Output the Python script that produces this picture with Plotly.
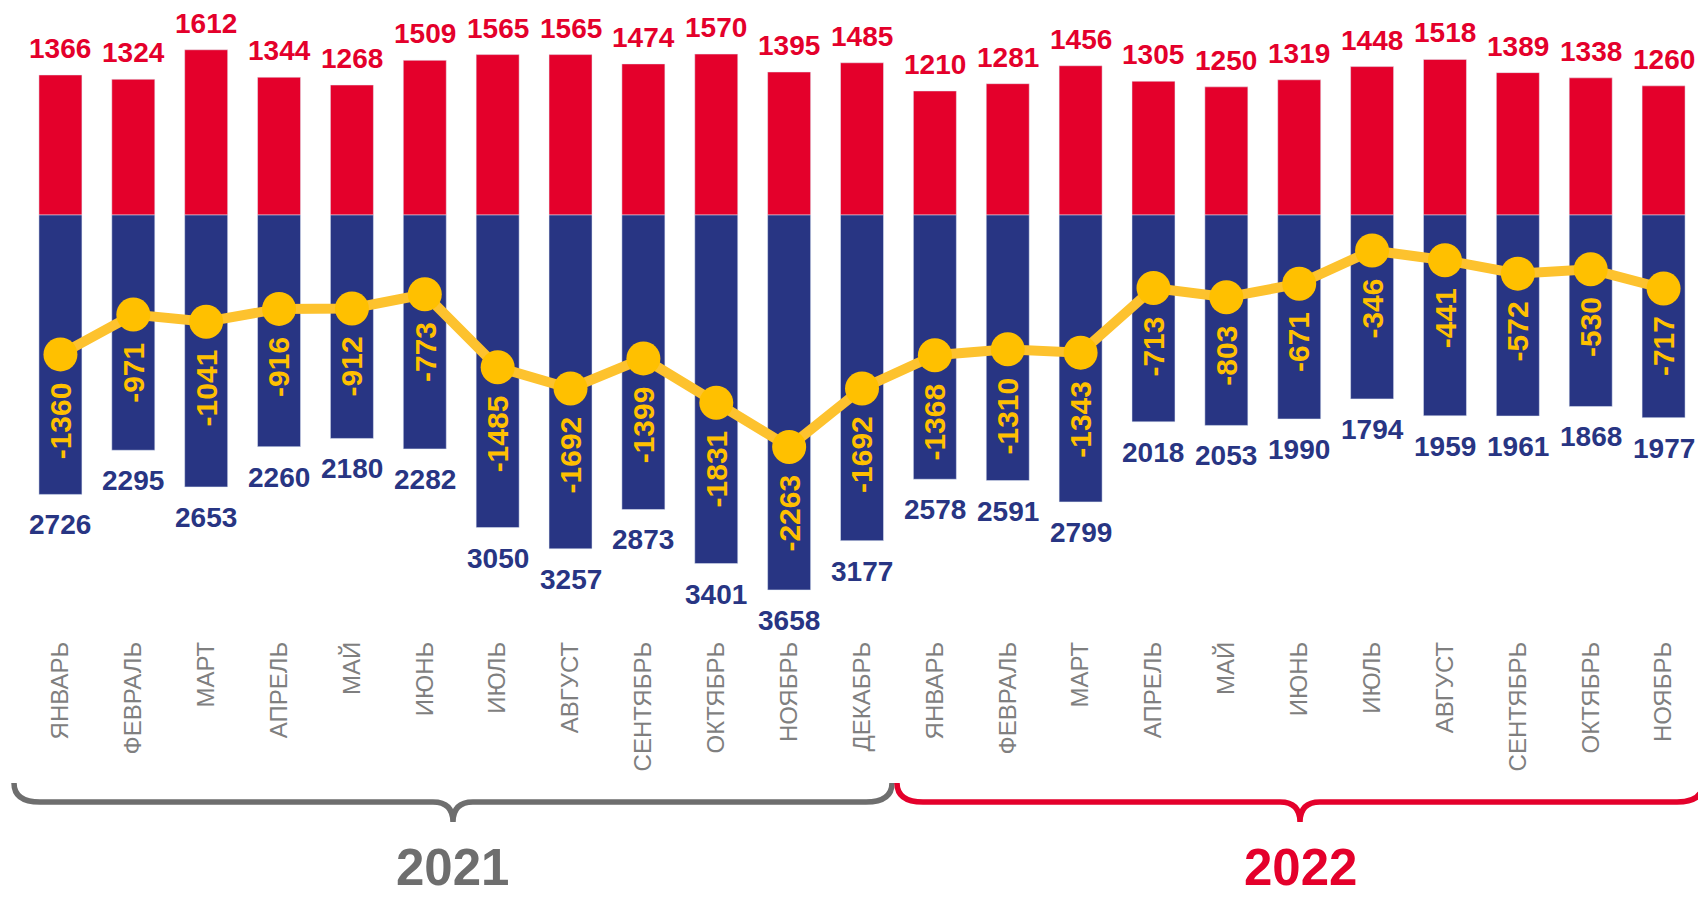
import plotly.graph_objects as go

# --- data -------------------------------------------------------------
months = [
    "ЯНВАРЬ", "ФЕВРАЛЬ", "МАРТ", "АПРЕЛЬ", "МАЙ", "ИЮНЬ", "ИЮЛЬ", "АВГУСТ",
    "СЕНТЯБРЬ", "ОКТЯБРЬ", "НОЯБРЬ", "ДЕКАБРЬ",
    "ЯНВАРЬ", "ФЕВРАЛЬ", "МАРТ", "АПРЕЛЬ", "МАЙ", "ИЮНЬ", "ИЮЛЬ", "АВГУСТ",
    "СЕНТЯБРЬ", "ОКТЯБРЬ", "НОЯБРЬ",
]
births = [1366, 1324, 1612, 1344, 1268, 1509, 1565, 1565, 1474, 1570, 1395, 1485,
          1210, 1281, 1456, 1305, 1250, 1319, 1448, 1518, 1389, 1338, 1260]
deaths = [2726, 2295, 2653, 2260, 2180, 2282, 3050, 3257, 2873, 3401, 3658, 3177,
          2578, 2591, 2799, 2018, 2053, 1990, 1794, 1959, 1961, 1868, 1977]
natural_change = [-1360, -971, -1041, -916, -912, -773, -1485, -1692, -1399, -1831,
                  -2263, -1692, -1368, -1310, -1343, -713, -803, -671, -346, -441,
                  -572, -530, -717]
years = ["2021", "2022"]

# --- styling ----------------------------------------------------------
RED = "#E4002B"
BLUE = "#283583"
YELLOW = "#FFC000"
YELLOW_LINE = "#FDC22E"
GRAY_AXIS = "#808080"
GRAY_TEXT = "#7F7F7F"
GRAY_YEAR = "#6E6E6E"
FONT = "Liberation Sans, Arial, sans-serif"

W, H = 1698, 899
ML, MR, MT = 24, 0, 0
PLOT_BOTTOM = 636          # pixel row where the plotting area ends
MB = H - PLOT_BOTTOM
PX_PER_CAT = 72.87
PX_PER_UNIT = 0.1025
ZERO_ROW = 215

x = list(range(len(months)))
x_range = [-0.5, -0.5 + (W - ML - MR) / PX_PER_CAT]
y_range = [-(PLOT_BOTTOM - ZERO_ROW) / PX_PER_UNIT, (ZERO_ROW - MT) / PX_PER_UNIT]
zero_pos = (0 - y_range[0]) / (y_range[1] - y_range[0])


def paper_x(px):
    return (px - ML) / (W - ML - MR)


def paper_y(py):
    return (PLOT_BOTTOM - py) / (PLOT_BOTTOM - MT)


fig = go.Figure()

fig.add_trace(go.Bar(x=x, y=births, marker_color=RED, width=0.59,
                     hoverinfo="skip", showlegend=False))
fig.add_trace(go.Bar(x=x, y=[-d for d in deaths], marker_color=BLUE, width=0.59,
                     hoverinfo="skip", showlegend=False))
fig.add_trace(go.Scatter(x=x, y=natural_change, mode="lines+markers",
                         line=dict(color=YELLOW_LINE, width=10),
                         marker=dict(color=YELLOW, size=34),
                         hoverinfo="skip", showlegend=False))

annotations = []
for i in x:
    annotations.append(dict(
        x=i, y=births[i], xref="x", yref="y", text=str(births[i]),
        showarrow=False, yanchor="bottom", yshift=9,
        font=dict(family=FONT, size=28, color=RED, weight="bold")))
    annotations.append(dict(
        x=i, y=-deaths[i], xref="x", yref="y", text=str(deaths[i]),
        showarrow=False, yanchor="top", yshift=-13,
        font=dict(family=FONT, size=28, color=BLUE, weight="bold")))
    annotations.append(dict(
        x=i, y=natural_change[i], xref="x", yref="y", text=str(natural_change[i]),
        showarrow=False, yanchor="top", yshift=-26, textangle=-90,
        font=dict(family=FONT, size=30, color=YELLOW, weight="bold")))


# year braces under the month labels
def brace_path(x0, x1, xm, y_top=783, y_line=802, y_tip=822, re=26, rm=20):
    pts = [
        ("M", [(x0, y_top)]),
        ("Q", [(x0, y_line), (x0 + re, y_line)]),
        ("L", [(xm - rm, y_line)]),
        ("Q", [(xm, y_line), (xm, y_tip)]),
        ("Q", [(xm, y_line), (xm + rm, y_line)]),
        ("L", [(x1 - re, y_line)]),
        ("Q", [(x1, y_line), (x1, y_top)]),
    ]
    out = []
    for cmd, coords in pts:
        out.append(cmd + " ".join(f"{paper_x(a):.5f},{paper_y(b):.5f}" for a, b in coords))
    return " ".join(out)


braces = [
    (years[0], 14, 892, 453, GRAY_YEAR),
    (years[1], 897, 1703, 1300, RED),
]
shapes = []
for label, x0, x1, xm, col in braces:
    shapes.append(dict(type="path", xref="paper", yref="paper",
                       path=brace_path(x0, x1, xm),
                       line=dict(color=col, width=5.5)))
    annotations.append(dict(
        x=paper_x(xm), y=paper_y(897), xref="paper", yref="paper", text=label,
        showarrow=False, xanchor="center", yanchor="bottom", borderpad=0,
        font=dict(family=FONT, size=51, color=col, weight="bold")))

fig.update_layout(
    width=W, height=H,
    margin=dict(l=ML, r=MR, t=MT, b=MB, pad=0),
    paper_bgcolor="white", plot_bgcolor="white",
    barmode="relative", bargap=0.41,
    showlegend=False,
    xaxis=dict(range=x_range, tickmode="array", tickvals=x, ticktext=months,
               tickangle=-90, ticks="", showline=False, showgrid=False,
               zeroline=False, tickfont=dict(family=FONT, size=24, color=GRAY_TEXT)),
    xaxis2=dict(range=x_range, overlaying="x", anchor="free", position=zero_pos,
                tickmode="array", tickvals=[i - 0.5 for i in range(len(months) + 1)],
                ticks="outside", ticklen=7, tickwidth=3, tickcolor=GRAY_AXIS,
                showline=True, linewidth=3, linecolor=GRAY_AXIS,
                showticklabels=False, showgrid=False, zeroline=False),
    yaxis=dict(range=y_range, visible=False, showgrid=False, zeroline=False),
    annotations=annotations,
    shapes=shapes,
)

fig.write_html("out.html")
